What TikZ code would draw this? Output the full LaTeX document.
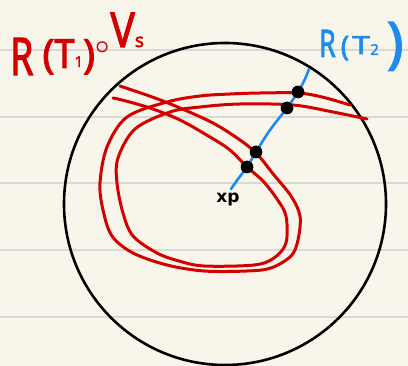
\documentclass[tikz,border=0pt]{standalone}
\usepackage{fontspec}
\usepackage{graphicx}
\setmainfont{Noto Sans}
\newfontfamily\hand[FakeBold=2.2]{Noto Sans}
\newfontfamily\markfont{DejaVu Sans}
\definecolor{paper}{HTML}{F8F6EB}
\definecolor{ruling}{HTML}{D8D8D8}
\definecolor{inkred}{HTML}{D40000}
\definecolor{inkblue}{HTML}{1C8BF0}
\tikzset{
  ruleline/.style={draw=ruling, line width=1.6pt},
  bigcircle/.style={draw=black, line width=2.6pt},
  redcurve/.style={draw=inkred, line width=3pt, line cap=round, line join=round},
  bluecurve/.style={draw=inkblue, line width=2.6pt, line cap=round, line join=round},
  hitdot/.style={circle, fill=black, inner sep=0pt, minimum size=12.5pt},
}
\begin{document}
\begin{tikzpicture}[x=1pt,y=-1pt]
\fill[paper] (0,0) rectangle (408,366);
\useasboundingbox (0,0) rectangle (408,366);
% ruled paper
\foreach \yy in {50,117,183,250,317} \draw[ruleline] (0,\yy) -- (408,\yy);
% big circle
\node[circle, bigcircle, minimum size=322pt, inner sep=0pt] (ball) at (225,204) {};
% outer red curve
\draw[redcurve] plot[smooth, tension=0.55] coordinates {
 (350,105) (322,97) (298,93) (260,93) (230,94) (200,96) (167,102) (127,117)
 (107,147) (100,183) (103,210) (112,236) (133,253) (167,265) (204,271)
 (247,271) (271,268) (291,256) (298,240) (300,216) (291,196) (274,175)
 (257,154) (240,140) (213,123) (180,108) (155,98) (120,86)};
% inner red curve
\draw[redcurve] plot[smooth, tension=0.55] coordinates {
 (367,119) (333,112) (293,105) (240,104) (200,107) (170,112) (135,129)
 (118,158) (117,183) (123,213) (133,236) (157,253) (179,261) (204,266)
 (254,265) (274,258) (286,243) (286,216) (277,199) (263,181) (247,167)
 (230,150) (210,137) (180,120) (150,108) (122,100) (113,98)};
% x_p and blue curve
\node[font=\markfont\bfseries\fontsize{17}{17}\selectfont, inner sep=0pt] (xp) at (228,200) {xp};
\coordinate (bstart) at (231,189);
\coordinate (btop) at (309,69);
\node[hitdot] (d1) at (298,92) {};
\node[hitdot] (d2) at (287,108) {};
\node[hitdot] (d3) at (256,152) {};
\node[hitdot] (d4) at (247,167) {};
\draw[bluecurve] plot[smooth, tension=0.5] coordinates {
 (bstart) (238,179) (d4.center) (d3.center) (270,130) (d2.center) (d1.center) (305,79) (btop)};
\node[hitdot] at (d1) {};
\node[hitdot] at (d2) {};
\node[hitdot] at (d3) {};
\node[hitdot] at (d4) {};
% labels
\node[text=inkred, anchor=base west, inner sep=0pt, font=\hand] (lblA) at (10,75)
 {\fontsize{52}{52}\selectfont\scalebox{0.72}[1]{R}\hspace{9pt}%
  \raisebox{7pt}{\fontsize{40}{40}\selectfont(\scalebox{0.9}[1]{T}\raisebox{1pt}{\fontsize{15}{15}\selectfont 1})}%
  \hspace{0pt}\raisebox{21pt}{\fontsize{27}{27}\selectfont\boldmath$\circ$}%
  \hspace{1pt}\raisebox{28pt}{\fontsize{48}{48}\selectfont\scalebox{0.85}[1]{V}\fontsize{19}{19}\selectfont s}};
\node[text=inkblue, anchor=base west, inner sep=0pt, font=\hand] (lblB) at (319,57)
 {\fontsize{38}{38}\selectfont\scalebox{0.7}[1]{R}\hspace{5pt}%
  \raisebox{1pt}{\fontsize{28}{28}\selectfont(}\hspace{3pt}%
  \raisebox{3pt}{\fontsize{25}{25}\selectfont\scalebox{1.3}[1]{T}}%
  \raisebox{2pt}{\fontsize{15}{15}\selectfont 2}%
  \hspace{8pt}\raisebox{-5pt}{\fontsize{56}{56}\selectfont)}};
\end{tikzpicture}
\end{document}
